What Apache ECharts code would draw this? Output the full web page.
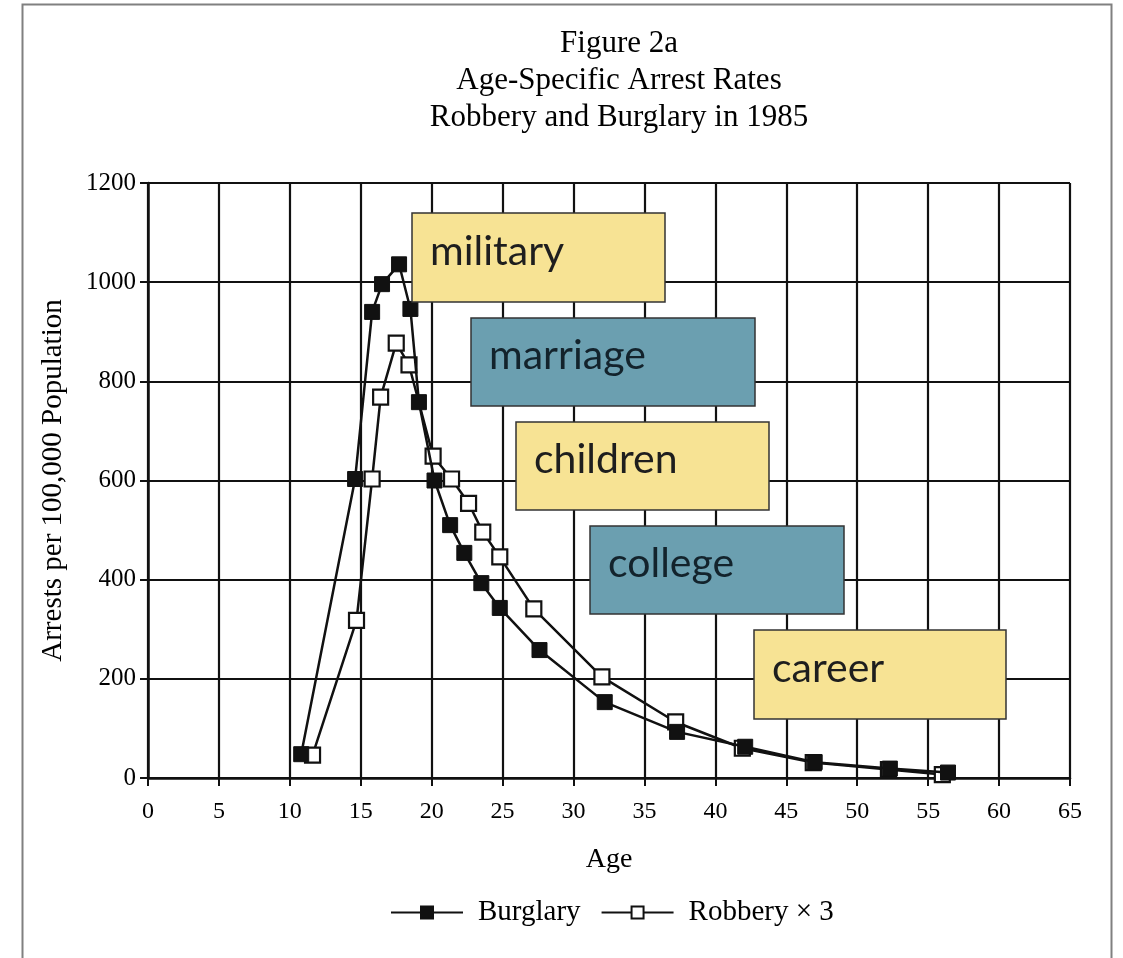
<!DOCTYPE html>
<html>
<head>
<meta charset="utf-8">
<script src="https://cdn.jsdelivr.net/npm/echarts@6/dist/echarts.min.js"></script>
<style>
html,body{margin:0;padding:0;background:#fff;}
#c{width:1123px;height:958px;}
</style>
</head>
<body>
<div id="c"></div>
<script>
// Data
const burglaryAge   = [10.8, 14.6, 15.8, 16.5, 17.7, 18.5, 19.1, 20.2, 21.3, 22.3, 23.5, 24.8, 27.6, 32.2, 37.3, 42.1, 47.0, 52.3, 56.4];
const burglaryRate  = [48, 603, 940, 996, 1036, 946, 758, 600, 510, 454, 393, 343, 258, 153, 93, 63, 32, 19, 11];
const robberyAge    = [11.6, 14.7, 15.8, 16.4, 17.5, 18.4, 20.1, 21.4, 22.6, 23.6, 24.8, 27.2, 32.0, 37.2, 41.9, 46.9, 52.2, 56.0];
const robberyRate   = [46, 318, 603, 768, 877, 833, 649, 603, 554, 496, 446, 341, 204, 113, 60, 31, 17, 7];
const xTicks = {min: 0, max: 65, interval: 5};
const yTicks = {min: 0, max: 1200, interval: 200};
const titleLines = ['Figure 2a', 'Age-Specific Arrest Rates', 'Robbery and Burglary in 1985'];
const boxLabels = ['military', 'marriage', 'children', 'college', 'career'];
const seriesNames = ['Burglary', 'Robbery \u00d7 3'];

const serif = '"Liberation Serif", "DejaVu Serif", serif';
const sans = 'Lato, "Open Sans", sans-serif';

// annotation boxes (pixel layout)
const boxLayout = [
  {x: 412, y: 213, w: 253, h: 89, fill: '#F7E394', ink: '#1e1e1e'},
  {x: 471, y: 318, w: 284, h: 88, fill: '#6B9FB0', ink: '#13232c'},
  {x: 516, y: 422, w: 253, h: 88, fill: '#F7E394', ink: '#1e1e1e'},
  {x: 590, y: 526, w: 254, h: 88, fill: '#6B9FB0', ink: '#13232c'},
  {x: 754, y: 630, w: 252, h: 89, fill: '#F7E394', ink: '#1e1e1e'}
];
const graphics = [
  {type: 'rect', shape: {x: 22.5, y: 4.5, width: 1089, height: 1000}, style: {fill: 'none', stroke: '#808080', lineWidth: 2}, z: 0, silent: true}
];
boxLayout.forEach((b, i) => {
  graphics.push({type: 'rect', shape: {x: b.x, y: b.y, width: b.w, height: b.h},
    style: {fill: b.fill, stroke: '#333', lineWidth: 1.5}, z: 100});
  graphics.push({type: 'text', x: b.x + 18, y: b.y + b.h / 2 - 6,
    style: {text: boxLabels[i], font: '41px ' + sans, fill: b.ink, textVerticalAlign: 'middle', verticalAlign: 'middle'}, z: 101});
});

const chart = echarts.init(document.getElementById('c'));
chart.setOption({
  animation: false,
  backgroundColor: '#fff',
  title: {
    text: titleLines.join('\n'),
    left: 614, textAlign: 'center', top: 20,
    textStyle: {fontFamily: serif, fontSize: 31, fontWeight: 'normal', color: '#000', lineHeight: 37}
  },
  legend: {
    bottom: 26, left: 385,
    itemWidth: 72, itemHeight: 15, itemGap: 20,
    textStyle: {fontFamily: serif, fontSize: 29, color: '#000', padding: [0, 0, 0, 10]},
    data: seriesNames
  },
  grid: {left: 148, right: 53, top: 183, bottom: 180, containLabel: false},
  xAxis: {
    type: 'value', min: xTicks.min, max: xTicks.max, interval: xTicks.interval,
    name: 'Age', nameLocation: 'middle', nameGap: 68,
    nameTextStyle: {fontFamily: serif, fontSize: 28, color: '#000'},
    axisLine: {show: true, lineStyle: {color: '#111', width: 2.5}},
    axisTick: {show: true, length: 8, lineStyle: {color: '#111', width: 2}},
    axisLabel: {fontFamily: serif, fontSize: 24, color: '#000', margin: 22},
    splitLine: {show: true, lineStyle: {color: '#111', width: 2.2}}
  },
  yAxis: {
    type: 'value', min: yTicks.min, max: yTicks.max, interval: yTicks.interval,
    name: 'Arrests per 100,000 Population', nameLocation: 'middle', nameGap: 80,
    nameTextStyle: {fontFamily: serif, fontSize: 29, color: '#000'},
    axisLine: {show: true, lineStyle: {color: '#111', width: 2.5}},
    axisTick: {show: true, length: 8, lineStyle: {color: '#111', width: 2}},
    axisLabel: {fontFamily: serif, fontSize: 25, color: '#000', margin: 12, formatter: v => String(v)},
    splitLine: {show: true, lineStyle: {color: '#111', width: 2.2}}
  },
  series: [
    {
      name: seriesNames[1], type: 'line', z: 3,
      data: robberyAge.map((a, i) => [a, robberyRate[i]]),
      symbol: 'rect', symbolSize: 15,
      lineStyle: {color: '#111', width: 2.5},
      itemStyle: {color: '#fff', borderColor: '#111', borderWidth: 2.2}
    },
    {
      name: seriesNames[0], type: 'line', z: 4,
      data: burglaryAge.map((a, i) => [a, burglaryRate[i]]),
      symbol: 'rect', symbolSize: 15,
      lineStyle: {color: '#111', width: 2.5},
      itemStyle: {color: '#111', borderColor: '#111', borderWidth: 1}
    }
  ],
  graphic: graphics
});
</script>
</body>
</html>
